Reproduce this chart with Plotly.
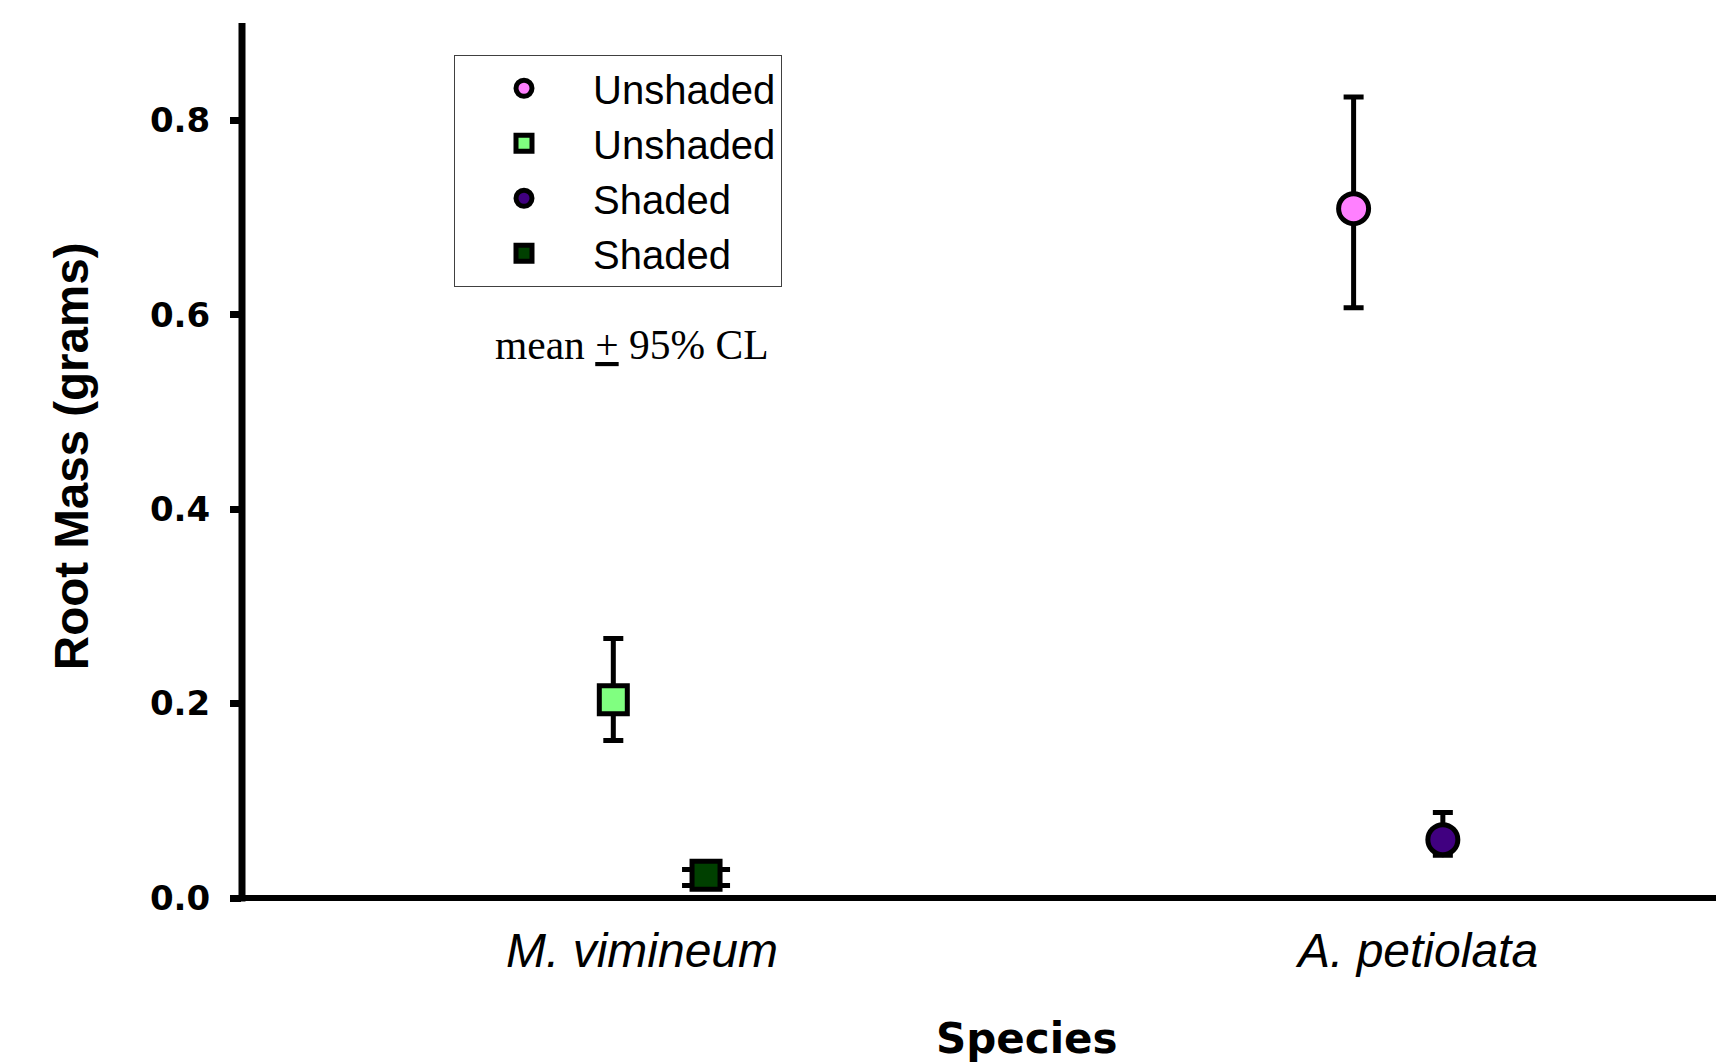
import plotly.graph_objects as go

# ---------------- data ----------------
species_labels = ["M. vimineum", "A. petiolata"]
species_pos = [1, 2]

series_names = ["Unshaded", "Unshaded", "Shaded", "Shaded"]
series_species = ["A. petiolata", "M. vimineum", "A. petiolata", "M. vimineum"]
mean_mass = [0.709, 0.204, 0.060, 0.0234]
upper_cl = [0.824, 0.267, 0.088, 0.0293]
lower_cl = [0.607, 0.162, 0.044, 0.0129]

y_ticks = [0.0, 0.2, 0.4, 0.6, 0.8]

# ---------------- styles ----------------
dodge = [-0.083, -0.037, 0.032, 0.0825]
symbols = ["circle", "square", "circle", "square"]
fills = ["#FF80FF", "#80FF80", "#400080", "#004000"]
sizes = [30, 28, 30, 28]
cap_half = [10, 10, 10, 24]

ARIAL = "Liberation Sans, Arial, sans-serif"
TIMES = "Liberation Serif, Times New Roman, serif"
DEJAVU = "DejaVu Sans, sans-serif"

fig = go.Figure()
for i in range(len(series_names)):
    xi = species_pos[species_labels.index(series_species[i])] + dodge[i]
    fig.add_trace(go.Scatter(
        x=[xi], y=[mean_mass[i]],
        mode="markers",
        name=series_names[i],
        marker=dict(symbol=symbols[i], size=sizes[i], color=fills[i],
                    line=dict(color="black", width=5)),
        error_y=dict(type="data", symmetric=False,
                     array=[upper_cl[i] - mean_mass[i]],
                     arrayminus=[mean_mass[i] - lower_cl[i]],
                     color="black", thickness=5, width=cap_half[i]),
    ))

W, H = 1716, 1064
L, T, B = 242, 23.25, 1064 - 898.5
PH = 898.5 - T

fig.update_layout(
    width=W, height=H,
    margin=dict(l=L, r=0, t=T, b=B, pad=0),
    paper_bgcolor="white", plot_bgcolor="white",
    showlegend=True,
    legend=dict(
        x=(454 - L) / (W - L), y=(898.5 - 55) / PH,
        xanchor="left", yanchor="top",
        bgcolor="white", bordercolor="#404040", borderwidth=1,
        font=dict(family=ARIAL, size=40, color="black"),
        itemwidth=128, traceorder="normal",
        entrywidth=345, entrywidthmode="pixels",
    ),
    xaxis=dict(
        range=[0.4845, 2.384], showgrid=False, zeroline=False, showline=False,
        tickvals=species_pos, ticktext=species_labels, ticks="",
        tickfont=dict(family=ARIAL, size=48, color="black", style="italic"),
        ticklabelstandoff=20,
    ),
    yaxis=dict(
        range=[0, 0.9], showgrid=False, zeroline=False, showline=False,
        tickvals=y_ticks, tickformat=".1f",
        ticks="outside", ticklen=11, tickwidth=7, tickcolor="black",
        tickfont=dict(family=DEJAVU, size=34, color="black", weight="bold"),
        ticklabelstandoff=13,
    ),
    shapes=[
        dict(type="line", xref="paper", yref="paper", x0=0, x1=1, y0=0, y1=0,
             line=dict(color="black", width=6)),
        dict(type="line", xref="paper", yref="paper", x0=0, x1=0, y0=-0.004, y1=1,
             line=dict(color="black", width=7)),
    ],
    annotations=[
        dict(text="Root Mass (grams)", textangle=-90, showarrow=False,
             xref="paper", yref="paper", x=(71 - L) / (W - L), y=0.505,
             xanchor="center", yanchor="middle",
             font=dict(family=ARIAL, size=47.5, color="black", weight="bold")),
        dict(text="Species", showarrow=False,
             xref="paper", yref="paper", x=(1027 - L) / (W - L),
             y=(898.5 - 1039) / PH,
             xanchor="center", yanchor="middle",
             font=dict(family=DEJAVU, size=42, color="black", weight="bold")),
        dict(text="mean <u>+</u> 95% CL", showarrow=False,
             xref="paper", yref="paper", x=(632 - L) / (W - L),
             y=(898.5 - 345.5) / PH,
             xanchor="center", yanchor="middle",
             font=dict(family=TIMES, size=41.5, color="black")),
    ],
)

fig.write_html("out.html")
